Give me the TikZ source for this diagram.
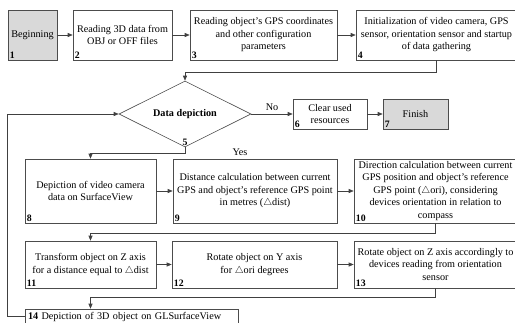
\documentclass[tikz,border=0pt]{standalone}
\usepackage{fontspec}
\setmainfont{Liberation Serif}
\usepackage{amssymb}
\usetikzlibrary{arrows.meta,shapes.geometric}

\begin{document}
\begin{tikzpicture}[x=1pt,y=-1pt,font=\fontsize{10.2}{12.5}\selectfont]
\tikzstyle{box}=[draw=black!70,line width=0.6pt,align=center,inner sep=2pt,minimum height=50pt]
\tikzstyle{num}=[anchor=south west,inner sep=2pt,font=\fontsize{9.8}{11}\selectfont\bfseries]
\tikzstyle{line}=[draw=black!75,line width=0.6pt]
\tikzstyle{arr}=[line,-{Triangle[length=5pt,width=4pt]}]
\useasboundingbox (0,0) rectangle (515,322);
% first row
\node[box,fill=gray!30,minimum width=49pt,label={[num]south west:1}] (1) at (32.5,35) {Beginning};
\node[box,minimum width=99pt,label={[num]south west:2}] (2) at (122.5,35) {Reading 3D data from\\OBJ or OFF files};
\node[box,minimum width=147pt,label={[num]south west:3}] (3) at (263.5,35) {Reading object's GPS coordinates\\and other configuration\\parameters};
\node[box,minimum width=161pt,label={[num]south west:4}] (4) at (436.5,35) {Initialization of video camera, GPS\\sensor, orientation sensor and startup\\of data gathering};
% decision
\node[draw=black!70,line width=0.6pt,diamond,aspect=2,minimum width=132pt,minimum height=66pt,inner sep=0pt,font=\fontsize{10.2}{12.5}\selectfont\bfseries,label={[num,anchor=south]south:5}] (5) at (185,114) {Data depiction};
\node[box,minimum width=74pt,minimum height=30pt,label={[num]south west:6}] (6) at (330,114) {Clear used\\resources};
\node[box,fill=gray!30,minimum width=65pt,minimum height=30pt,label={[num]south west:7}] (7) at (415.5,114) {Finish};
\node (yes) at (240,152) {Yes};
% second row
\node[box,minimum width=131pt,minimum height=64pt,label={[num]south west:8}] (8) at (90.5,191) {Depiction of video camera\\data on SurfaceView};
\node[box,minimum width=164pt,minimum height=64pt,label={[num]south west:9}] (9) at (255,191) {Distance calculation between current\\GPS and object's reference GPS point\\in metres ($\triangle$dist)};
\node[box,minimum width=163pt,minimum height=64pt,inner ysep=0pt,label={[num]south west:10}] (10) at (435.5,191) {Direction calculation between current\\GPS position and object's reference\\GPS point ($\triangle$ori), considering\\devices orientation in relation to\\compass};
% third row
\node[box,minimum width=131pt,minimum height=47pt,label={[num]south west:11}] (11) at (90.5,264.5) {Transform object on Z axis\\for a distance equal to $\triangle$dist};
\node[box,minimum width=165pt,minimum height=47pt,label={[num]south west:12}] (12) at (254.5,264.5) {Rotate object on Y axis\\for $\triangle$ori degrees};
\node[box,minimum width=163pt,minimum height=47pt,label={[num]south west:13}] (13) at (435.5,264.5) {Rotate object on Z axis accordingly to\\devices reading from orientation\\sensor};
\node[box,minimum height=15pt,text width=207pt,inner xsep=3pt,align=left] (14) at (131.5,316.5) {{\bfseries 14} Depiction of 3D object on GLSurfaceView};
% connectors
\draw[arr] (1) -- (2);
\draw[arr] (2) -- (3);
\draw[arr] (3) -- (4);
\draw[arr] (4.south) -- ++(0,12) -| (5.north);
\draw[arr] (5.east) -- (6.west) node[midway,above] (no) {No};
\draw[arr] (6) -- (7);
\draw[arr] (5.south) -- ++(0,6) -| (8.north);
\draw[arr] (8) -- (9);
\draw[arr] (9) -- (10);
\draw[arr] (10.south) -- ++(0,10) -| (11.north);
\draw[arr] (11) -- (12);
\draw[arr] (12) -- (13);
\draw[arr] (13.south) -- ++(0,9) -| (14.north west -| 11.south);
\draw[arr] (14.west) -- ++(-17,0) |- (5.west);
\end{tikzpicture}
\end{document}
